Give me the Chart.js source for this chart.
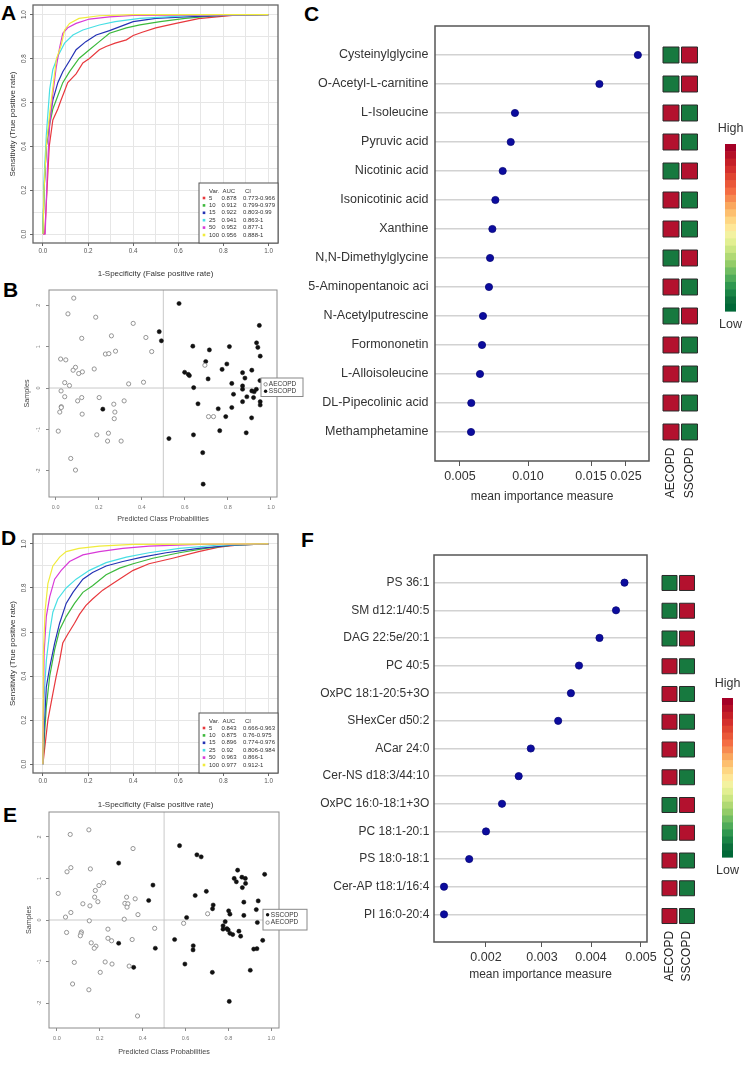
<!DOCTYPE html>
<html>
<head>
<meta charset="utf-8">
<script src="https://cdn.jsdelivr.net/npm/chart.js@4.4.1/dist/chart.umd.min.js"></script>
<style>
  body { margin: 0; width: 750px; height: 1067px; position: relative; overflow: hidden; background: #fff; font-family: "Liberation Sans", Arial, sans-serif; }
  canvas { position: absolute; }
  .tag { position: absolute; font-size: 21px; line-height: 21px; font-weight: bold; color: #000; }
</style>
</head>
<body>
<div class="tag" style="left:1px;top:2px">A</div>
<div class="tag" style="left:3px;top:279px">B</div>
<div class="tag" style="left:304px;top:3px">C</div>
<div class="tag" style="left:1px;top:527px">D</div>
<div class="tag" style="left:3px;top:804px">E</div>
<div class="tag" style="left:301px;top:529px">F</div>

<canvas id="rocA" width="290" height="285" style="left:0;top:0"></canvas>
<canvas id="probB" width="305" height="250" style="left:0;top:280px"></canvas>
<canvas id="impC" width="370" height="512" style="left:295px;top:0"></canvas>
<canvas id="heatC" width="95" height="512" style="left:655px;top:0"></canvas>
<canvas id="rocD" width="290" height="295" style="left:0;top:520px"></canvas>
<canvas id="probE" width="310" height="267" style="left:0;top:800px"></canvas>
<canvas id="impF" width="370" height="470" style="left:295px;top:520px"></canvas>
<canvas id="heatF" width="95" height="470" style="left:655px;top:520px"></canvas>

<script>
// ---------- data ----------
const rocVars = ['5', '10', '15', '25', '50', '100'];
const rocGrid = [0, 0.1, 0.2, 0.3, 0.4, 0.5, 0.6, 0.7, 0.8, 0.9, 1];

// A (metabolites): [FPR, TPR]
const rocA5 = [[0,0],[0.008,0],[0.018,0.2],[0.028,0.4],[0.044,0.52],[0.066,0.57],[0.08,0.61],[0.095,0.65],[0.11,0.69],[0.147,0.73],[0.177,0.78],[0.206,0.8],[0.25,0.84],[0.28,0.855],[0.32,0.87],[0.37,0.885],[0.4,0.905],[0.44,0.92],[0.5,0.94],[0.59,0.96],[0.69,0.982],[0.77,0.99],[0.84,0.997],[1,1]];
const rocA10 = [[0,0],[0.005,0.2],[0.015,0.4],[0.03,0.5],[0.044,0.57],[0.066,0.63],[0.088,0.69],[0.118,0.74],[0.16,0.8],[0.206,0.84],[0.25,0.877],[0.295,0.915],[0.37,0.94],[0.43,0.953],[0.52,0.968],[0.63,0.983],[0.77,0.995],[1,1]];
const rocA15 = [[0,0],[0.005,0.2],[0.015,0.4],[0.03,0.52],[0.044,0.61],[0.066,0.69],[0.088,0.74],[0.118,0.79],[0.147,0.84],[0.19,0.877],[0.236,0.907],[0.295,0.927],[0.4,0.968],[0.5,0.983],[0.63,0.99],[0.84,0.998],[1,1]];
const rocA25 = [[0,0],[0.005,0.25],[0.015,0.45],[0.03,0.66],[0.044,0.75],[0.066,0.81],[0.096,0.87],[0.133,0.907],[0.177,0.93],[0.25,0.953],[0.32,0.968],[0.43,0.983],[0.55,0.99],[0.69,0.998],[1,1]];
const rocA50 = [[0,0],[0.01,0],[0.02,0.3],[0.03,0.5],[0.044,0.64],[0.059,0.76],[0.074,0.85],[0.088,0.915],[0.11,0.94],[0.147,0.96],[0.206,0.98],[0.295,0.99],[0.4,0.997],[1,1]];
const rocA100 = [[0,0],[0.005,0.2],[0.015,0.4],[0.03,0.55],[0.06,0.8],[0.081,0.86],[0.096,0.93],[0.118,0.96],[0.16,0.983],[0.25,0.995],[0.4,1],[1,1]];
const aucA = [0.878, 0.912, 0.922, 0.941, 0.952, 0.956];
const ciA = ['0.773-0.966', '0.799-0.979', '0.803-0.99', '0.863-1', '0.877-1', '0.888-1'];

// D (lipids)
const rocD5 = [[0,0],[0.007,0.065],[0.022,0.2],[0.044,0.32],[0.059,0.4],[0.074,0.47],[0.088,0.55],[0.11,0.59],[0.14,0.64],[0.162,0.68],[0.19,0.72],[0.22,0.75],[0.265,0.79],[0.31,0.82],[0.354,0.85],[0.4,0.88],[0.47,0.91],[0.575,0.935],[0.69,0.965],[0.78,0.985],[0.87,0.995],[1,1]];
const rocD10 = [[0,0],[0.005,0.1],[0.015,0.26],[0.03,0.4],[0.052,0.52],[0.074,0.61],[0.103,0.67],[0.14,0.73],[0.177,0.78],[0.22,0.81],[0.28,0.86],[0.34,0.89],[0.4,0.91],[0.487,0.935],[0.605,0.96],[0.72,0.98],[0.84,0.994],[1,1]];
const rocD15 = [[0,0],[0.005,0.15],[0.015,0.35],[0.03,0.44],[0.052,0.55],[0.074,0.64],[0.103,0.73],[0.133,0.78],[0.177,0.84],[0.22,0.87],[0.28,0.9],[0.354,0.92],[0.44,0.94],[0.546,0.96],[0.69,0.98],[0.84,0.994],[1,1]];
const rocD25 = [[0,0],[0.005,0.3],[0.015,0.47],[0.03,0.6],[0.044,0.69],[0.066,0.75],[0.103,0.8],[0.147,0.84],[0.206,0.88],[0.28,0.915],[0.37,0.94],[0.47,0.96],[0.605,0.98],[0.77,0.994],[1,1]];
const rocD50 = [[0,0],[0.005,0.5],[0.015,0.67],[0.03,0.76],[0.052,0.84],[0.081,0.88],[0.118,0.92],[0.177,0.95],[0.25,0.965],[0.354,0.98],[0.47,0.99],[0.69,0.998],[1,1]];
const rocD100 = [[0,0],[0.002,0.5],[0.01,0.7],[0.022,0.82],[0.044,0.9],[0.074,0.94],[0.103,0.965],[0.16,0.98],[0.25,0.99],[0.4,0.998],[1,1]];
const aucD = [0.843, 0.875, 0.896, 0.92, 0.963, 0.977];
const ciD = ['0.666-0.963', '0.76-0.975', '0.774-0.976', '0.806-0.984', '0.866-1', '0.912-1'];

// B / E: [predicted class probability, sample jitter]
const groups = ['AECOPD', 'SSCOPD'];
const probTicks = [0, 0.2, 0.4, 0.6, 0.8, 1];
const sampleTicks = [-2, -1, 0, 1, 2];
const probCut = 0.5;

const probB_AECOPD = [[0.084,2.17],[0.057,1.79],[0.186,1.71],[0.36,1.56],[0.121,1.2],[0.259,1.26],[0.419,1.22],[0.231,0.82],[0.247,0.83],[0.278,0.89],[0.446,0.88],[0.023,0.7],[0.047,0.68],[0.092,0.5],[0.081,0.43],[0.124,0.39],[0.107,0.35],[0.179,0.46],[0.693,0.55],[0.042,0.13],[0.064,0.06],[0.339,0.1],[0.408,0.14],[0.025,-0.07],[0.042,-0.21],[0.102,-0.31],[0.121,-0.23],[0.202,-0.23],[0.318,-0.31],[0.27,-0.39],[0.026,-0.45],[0.026,-0.47],[0.019,-0.58],[0.275,-0.58],[0.123,-0.63],[0.272,-0.74],[0.012,-1.04],[0.191,-1.13],[0.245,-1.09],[0.241,-1.28],[0.304,-1.28],[0.07,-1.7],[0.092,-1.98],[0.71,-0.69],[0.733,-0.69]];
const probB_SSCOPD = [[0.573,2.04],[0.481,1.36],[0.491,1.14],[0.637,1.01],[0.714,0.92],[0.807,1.0],[0.946,1.51],[0.933,1.09],[0.939,0.98],[0.95,0.77],[0.697,0.64],[0.795,0.58],[0.773,0.45],[0.599,0.38],[0.616,0.33],[0.621,0.3],[0.708,0.22],[0.868,0.37],[0.911,0.43],[0.879,0.24],[0.818,0.11],[0.641,0.01],[0.868,0.05],[0.868,-0.03],[0.949,0.18],[0.932,-0.03],[0.922,-0.09],[0.911,-0.07],[0.826,-0.15],[0.95,-0.33],[0.95,-0.41],[0.868,-0.33],[0.888,-0.21],[0.919,-0.23],[0.661,-0.38],[0.755,-0.5],[0.818,-0.47],[0.219,-0.51],[0.79,-0.69],[0.91,-0.72],[0.762,-1.03],[0.64,-1.13],[0.885,-1.08],[0.526,-1.22],[0.683,-1.56],[0.685,-2.32]];
const probE_AECOPD = [[0.149,2.17],[0.062,2.06],[0.355,1.72],[0.065,1.26],[0.047,1.16],[0.156,1.23],[0.218,0.9],[0.196,0.83],[0.179,0.71],[0.006,0.64],[0.176,0.55],[0.325,0.55],[0.365,0.51],[0.191,0.44],[0.121,0.39],[0.317,0.4],[0.331,0.39],[0.154,0.34],[0.327,0.31],[0.065,0.18],[0.378,0.13],[0.04,0.07],[0.314,0.02],[0.151,-0.02],[0.703,0.15],[0.591,-0.08],[0.045,-0.3],[0.114,-0.29],[0.112,-0.33],[0.109,-0.38],[0.238,-0.22],[0.456,-0.2],[0.238,-0.44],[0.255,-0.5],[0.351,-0.47],[0.16,-0.55],[0.182,-0.63],[0.174,-0.68],[0.081,-1.02],[0.225,-1.01],[0.257,-1.06],[0.337,-1.11],[0.202,-1.26],[0.073,-1.54],[0.149,-1.68],[0.376,-2.31]];
const probE_SSCOPD = [[0.572,1.79],[0.653,1.57],[0.673,1.52],[0.288,1.37],[0.843,1.2],[0.969,1.1],[0.827,1.0],[0.863,1.03],[0.879,1.0],[0.837,0.92],[0.88,0.88],[0.448,0.84],[0.865,0.78],[0.697,0.69],[0.645,0.59],[0.428,0.47],[0.939,0.46],[0.872,0.43],[0.729,0.36],[0.726,0.27],[0.93,0.25],[0.801,0.22],[0.807,0.14],[0.872,0.11],[0.605,0.06],[0.785,-0.04],[0.775,-0.14],[0.775,-0.22],[0.793,-0.21],[0.799,-0.24],[0.807,-0.32],[0.82,-0.35],[0.849,-0.27],[0.857,-0.39],[0.935,-0.06],[0.96,-0.49],[0.549,-0.47],[0.459,-0.68],[0.636,-0.62],[0.635,-0.72],[0.288,-0.56],[0.358,-1.14],[0.597,-1.06],[0.725,-1.26],[0.918,-0.7],[0.933,-0.69],[0.902,-1.21],[0.804,-1.96]];

// C: metabolite importance + group level
const metabolites = ['Cysteinylglycine', 'O-Acetyl-L-carnitine', 'L-Isoleucine', 'Pyruvic acid', 'Nicotinic acid', 'Isonicotinic acid', 'Xanthine', 'N,N-Dimethylglycine', '5-Aminopentanoic aci', 'N-Acetylputrescine', 'Formononetin', 'L-Alloisoleucine', 'DL-Pipecolinic acid', 'Methamphetamine'];
const metaboliteImportance = [0.0284, 0.0174, 0.00904, 0.00873, 0.00814, 0.0076, 0.00738, 0.00721, 0.00713, 0.00669, 0.00662, 0.00647, 0.00583, 0.00581];
const metaboliteAECOPD = ['low', 'low', 'high', 'high', 'low', 'high', 'high', 'low', 'high', 'low', 'high', 'high', 'high', 'high'];
const metaboliteSSCOPD = ['high', 'high', 'low', 'low', 'high', 'low', 'low', 'high', 'low', 'high', 'low', 'low', 'low', 'low'];
const impTicksC = [0.005, 0.010, 0.015, 0.025];

// F: lipid importance + group level
const lipids = ['PS 36:1', 'SM d12:1/40:5', 'DAG 22:5e/20:1', 'PC 40:5', 'OxPC 18:1-20:5+3O', 'SHexCer d50:2', 'ACar 24:0', 'Cer-NS d18:3/44:10', 'OxPC 16:0-18:1+3O', 'PC 18:1-20:1', 'PS 18:0-18:1', 'Cer-AP t18:1/16:4', 'PI 16:0-20:4'];
const lipidImportance = [0.00467, 0.0045, 0.00417, 0.003755, 0.00359, 0.00333, 0.0028, 0.002584, 0.002286, 0.002, 0.0017, 0.00125, 0.00125];
const lipidAECOPD = ['low', 'low', 'low', 'high', 'high', 'high', 'high', 'high', 'low', 'low', 'high', 'high', 'high'];
const lipidSSCOPD = ['high', 'high', 'high', 'low', 'low', 'low', 'low', 'low', 'high', 'high', 'low', 'low', 'low'];
const impTicksF = [0.002, 0.003, 0.004, 0.005];

// ---------- styles ----------
const FONT = '"Liberation Sans", Arial, Helvetica, sans-serif';
Chart.defaults.font.family = FONT;
Chart.defaults.color = '#333';
Chart.defaults.layout.autoPadding = false;
const rocColors = ['#e8383d', '#3cb93c', '#2432b4', '#48dfe4', '#d83ad8', '#f0ec3c'];
const heatHigh = '#b3112e';
const heatLow = '#17793f';
const barColors = ['#a50026', '#b50f26', '#c51f27', '#d42f2c', '#e04430', '#ea5839', '#f46d43', '#f78a50', '#faa75d', '#fdbf6f', '#fed683', '#fee797', '#f3f2a0', '#e2ef92', '#cbe683', '#b0d974', '#93cc68', '#71bd62', '#4fab59', '#2f974f', '#1a8445', '#0c703c', '#006837'];

// axis with tick positions mapped piecewise (the importance axes are not linear)
class PiecewiseScale extends Chart.LinearScale {
  static id = 'piecewise';
  static defaults = Chart.LinearScale.defaults;
  getPixelForValue(v) {
    const k = this.options.knots, f = this.options.fracs;
    let i = 1;
    while (i < k.length - 1 && v > k[i]) i++;
    return this.getPixelForDecimal(f[i - 1] + (v - k[i - 1]) / (k[i] - k[i - 1]) * (f[i] - f[i - 1]));
  }
  getValueForPixel(p) {
    const d = this.getDecimalForPixel(p), k = this.options.knots, f = this.options.fracs;
    let i = 1;
    while (i < f.length - 1 && d > f[i]) i++;
    return k[i - 1] + (d - f[i - 1]) / (f[i] - f[i - 1]) * (k[i] - k[i - 1]);
  }
}
Chart.register(PiecewiseScale);

// fix an x axis height and drop the label overhang padding
function fixHeight(h) {
  return s => { s.height = h; s.paddingLeft = 0; s.paddingRight = 0; };
}

function frame(color, width) {
  return {
    id: 'frame',
    afterDraw(chart) {
      const { ctx, chartArea: a } = chart;
      ctx.save();
      ctx.strokeStyle = color;
      ctx.lineWidth = width;
      ctx.strokeRect(a.left, a.top, a.right - a.left, a.bottom - a.top);
      ctx.restore();
    }
  };
}

function rocLegend(auc, ci) {
  return {
    id: 'rocLegend',
    afterDraw(chart) {
      const { ctx, chartArea: a } = chart;
      const L = a.right - 79, T = a.bottom - 60;
      ctx.save();
      ctx.fillStyle = '#fff';
      ctx.fillRect(L, T, a.right - L, a.bottom - T);
      ctx.strokeStyle = '#555';
      ctx.lineWidth = 1;
      ctx.strokeRect(L, T, a.right - L, a.bottom - T);
      ctx.font = '6px ' + FONT;
      ctx.textBaseline = 'middle';
      ctx.fillStyle = '#333';
      ctx.fillText('Var.', L + 10, T + 8.5);
      ctx.fillText('AUC', L + 23.5, T + 8.5);
      ctx.fillText('CI', L + 46, T + 8.5);
      rocVars.forEach((v, i) => {
        const y = T + 15 + i * 7.4;
        ctx.fillStyle = rocColors[i];
        ctx.fillRect(L + 3.7, y - 1.3, 2.6, 2.6);
        ctx.fillStyle = '#333';
        ctx.fillText(v, L + 10, y);
        ctx.fillText(String(auc[i]), L + 22.5, y);
        ctx.fillText(ci[i], L + 44, y);
      });
      ctx.restore();
    }
  };
}

function rocChart(id, curves, auc, ci, lay) {
  const tickAxis = {
    type: 'linear',
    afterBuildTicks: s => { s.ticks = rocGrid.map(v => ({ value: v })); },
    grid: { color: '#e6e6e6', lineWidth: 1, tickLength: 3, tickColor: c => c.index % 2 ? 'rgba(0,0,0,0)' : '#666' },
    border: { display: false }
  };
  return new Chart(document.getElementById(id), {
    type: 'scatter',
    data: {
      datasets: curves.map((pts, i) => ({
        label: rocVars[i],
        data: pts.map(p => ({ x: p[0], y: p[1] })),
        showLine: true,
        borderColor: rocColors[i],
        borderWidth: 1.2,
        pointRadius: 0,
        order: curves.length - i
      }))
    },
    options: {
      responsive: false,
      animation: false,
      layout: { padding: { top: lay.top, right: lay.right, left: 0, bottom: 0 } },
      plugins: { legend: { display: false }, tooltip: { enabled: false } },
      scales: {
        x: Object.assign({}, tickAxis, {
          min: -0.044, max: 1.042,
          afterFit: fixHeight(lay.xh),
          ticks: { autoSkip: false, maxRotation: 0, padding: 1, font: { size: 6.3 }, color: '#555', callback: (v, i) => i % 2 ? '' : v.toFixed(1) },
          title: { display: true, text: '1-Specificity (False positive rate)', font: { size: 8 }, color: '#333', padding: { top: 0, bottom: lay.tb } }
        }),
        y: Object.assign({}, tickAxis, {
          min: lay.ymin, max: lay.ymax,
          afterFit: s => { s.width = 33; },
          ticks: { autoSkip: false, minRotation: 90, maxRotation: 90, crossAlign: 'center', padding: 1, font: { size: 6.3 }, color: '#555', callback: (v, i) => i % 2 ? '' : v.toFixed(1) },
          title: { display: true, text: 'Sensitivity (True positive rate)', font: { size: 8 }, color: '#333', padding: { top: 7.5, bottom: 0 } }
        })
      }
    },
    plugins: [frame('#666', 1.3), rocLegend(auc, ci)]
  });
}

function refLines() {
  return {
    id: 'refLines',
    beforeDatasetsDraw(chart) {
      const { ctx, chartArea: a, scales } = chart;
      const x = scales.x.getPixelForValue(probCut), y = scales.y.getPixelForValue(0);
      ctx.save();
      ctx.strokeStyle = '#c9c9c9';
      ctx.lineWidth = 1;
      ctx.beginPath();
      ctx.moveTo(x, a.top); ctx.lineTo(x, a.bottom);
      ctx.moveTo(a.left, y); ctx.lineTo(a.right, y);
      ctx.stroke();
      ctx.restore();
    }
  };
}

function groupLegend(items, box) {
  return {
    id: 'groupLegend',
    afterDraw(chart) {
      const ctx = chart.ctx;
      ctx.save();
      ctx.fillStyle = '#fff';
      ctx.fillRect(box.x, box.y, box.w, box.h);
      ctx.strokeStyle = '#888';
      ctx.lineWidth = 1;
      ctx.strokeRect(box.x, box.y, box.w, box.h);
      ctx.font = '6.5px ' + FONT;
      ctx.textBaseline = 'middle';
      items.forEach((it, i) => {
        const y = box.y + box.rows[i];
        ctx.beginPath();
        ctx.arc(box.x + 4.6, y, 1.7, 0, Math.PI * 2);
        if (it.filled) { ctx.fillStyle = '#111'; ctx.fill(); }
        else { ctx.strokeStyle = '#777'; ctx.lineWidth = 0.8; ctx.stroke(); }
        ctx.fillStyle = '#333';
        ctx.fillText(it.label, box.x + 7.8, y);
      });
      ctx.restore();
    }
  };
}

function probChart(id, ae, ss, legendItems, lay) {
  const open = { label: groups[0], data: ae.map(p => ({ x: p[0], y: p[1] })), pointRadius: 2.1, borderWidth: 0.9, borderColor: '#8a8a8a', backgroundColor: '#fff' };
  const filled = { label: groups[1], data: ss.map(p => ({ x: p[0], y: p[1] })), pointRadius: 2.1, borderWidth: 0.5, borderColor: '#111', backgroundColor: '#111' };
  return new Chart(document.getElementById(id), {
    type: 'scatter',
    data: { datasets: [open, filled] },
    options: {
      responsive: false,
      animation: false,
      layout: { padding: { top: lay.top, right: lay.right, left: 0, bottom: 0 } },
      plugins: { legend: { display: false }, tooltip: { enabled: false } },
      scales: {
        x: {
          type: 'linear', min: lay.xmin, max: lay.xmax,
          afterBuildTicks: s => { s.ticks = probTicks.map(v => ({ value: v })); },
          afterFit: fixHeight(lay.xh),
          grid: { drawOnChartArea: false, tickLength: 3, tickColor: '#888' },
          border: { display: false },
          ticks: { autoSkip: false, maxRotation: 0, padding: lay.xp, font: { size: 5.5 }, color: '#777', callback: v => v.toFixed(1) },
          title: { display: true, text: 'Predicted Class Probabilities', font: { size: 7.2 }, color: '#444', padding: { top: 0, bottom: lay.tb } }
        },
        y: {
          type: 'linear', min: lay.ymin, max: lay.ymax,
          afterBuildTicks: s => { s.ticks = sampleTicks.map(v => ({ value: v })); },
          afterFit: s => { s.width = 49; },
          grid: { drawOnChartArea: false, tickLength: 3, tickColor: '#888' },
          border: { display: false },
          ticks: { autoSkip: false, minRotation: 90, maxRotation: 90, crossAlign: 'center', padding: lay.yp, font: { size: 5.5 }, color: '#777', callback: v => String(v) },
          title: { display: true, text: 'Samples', font: { size: 7.2 }, color: '#444', padding: { top: lay.tl, bottom: 0 } }
        }
      }
    },
    plugins: [refLines(), frame('#8c8c8c', 1), groupLegend(legendItems, lay.legend)]
  });
}

function importanceChart(id, names, values, ticks, lay) {
  return new Chart(document.getElementById(id), {
    type: 'scatter',
    data: {
      datasets: [{
        data: values.map((v, i) => ({ x: v, y: i + 1 })),
        pointRadius: 3.6,
        backgroundColor: '#0c0c9e',
        borderColor: '#06067a',
        borderWidth: 0.8
      }]
    },
    options: {
      responsive: false,
      animation: false,
      layout: { padding: { top: lay.top, right: lay.right, left: 0, bottom: 0 } },
      plugins: { legend: { display: false }, tooltip: { enabled: false } },
      scales: {
        x: {
          type: 'piecewise', knots: lay.knots, fracs: lay.fracs,
          min: lay.knots[0], max: lay.knots[lay.knots.length - 1],
          afterBuildTicks: s => { s.ticks = ticks.map(v => ({ value: v })); },
          afterFit: fixHeight(lay.xh),
          grid: { drawOnChartArea: false, tickLength: 5, tickColor: '#555' },
          border: { display: false },
          ticks: { autoSkip: false, maxRotation: 0, padding: lay.xp, font: { size: 12.5 }, color: '#333', callback: v => v.toFixed(3) },
          title: { display: true, text: 'mean importance measure', font: { size: 12 }, color: '#333', padding: { top: 0, bottom: lay.tb } }
        },
        y: {
          type: 'linear', reverse: true, min: 0, max: names.length + 1,
          afterBuildTicks: s => { s.ticks = names.map((n, i) => ({ value: i + 1 })); },
          afterFit: s => { s.width = lay.yw; },
          grid: { color: '#d2d2d2', lineWidth: 1.5, drawTicks: false },
          border: { display: false },
          ticks: { autoSkip: false, padding: lay.yp, font: { size: lay.fs }, color: '#333', callback: v => names[v - 1] }
        }
      }
    },
    plugins: [frame('#555', 1.5)]
  });
}

function colorBar(bar) {
  return {
    id: 'colorBar',
    afterDraw(chart) {
      const ctx = chart.ctx;
      const h = (bar.bottom - bar.top) / barColors.length;
      ctx.save();
      barColors.forEach((c, i) => {
        ctx.fillStyle = c;
        ctx.fillRect(bar.left, bar.top + i * h, bar.width, h + 0.6);
      });
      ctx.font = '12.5px ' + FONT;
      ctx.textAlign = 'center';
      ctx.textBaseline = 'middle';
      ctx.fillStyle = '#333';
      ctx.fillText('High', bar.left + bar.width / 2, bar.highY);
      ctx.fillText('Low', bar.left + bar.width / 2, bar.lowY);
      ctx.restore();
    }
  };
}

function heatChart(id, names, ae, ss, lay) {
  const cells = [];
  names.forEach((n, i) => {
    cells.push({ x: groups[0], y: i + 1, level: ae[i] });
    cells.push({ x: groups[1], y: i + 1, level: ss[i] });
  });
  return new Chart(document.getElementById(id), {
    type: 'scatter',
    data: {
      datasets: [{
        data: cells,
        pointStyle: 'rect',
        pointRadius: lay.r,
        backgroundColor: c => (c.raw && c.raw.level === 'high') ? heatHigh : heatLow,
        borderColor: '#2a2a2a',
        borderWidth: 1,
        clip: false
      }]
    },
    options: {
      responsive: false,
      animation: false,
      layout: { autoPadding: false, padding: { top: lay.top, right: lay.right, left: lay.left, bottom: 0 } },
      plugins: { legend: { display: false }, tooltip: { enabled: false } },
      scales: {
        x: {
          type: 'category', labels: groups, offset: true,
          afterFit: fixHeight(lay.xh),
          grid: { display: false, drawTicks: false },
          border: { display: false },
          ticks: { autoSkip: false, minRotation: 90, maxRotation: 90, padding: 1, labelOffset: lay.lo, font: { size: 12 }, color: '#222' }
        },
        y: { type: 'linear', reverse: true, min: 0.5, max: names.length + 0.5, display: false }
      }
    },
    plugins: [colorBar(lay.bar)]
  });
}

// ---------- panels ----------
rocChart('rocA', [rocA5, rocA10, rocA15, rocA25, rocA50, rocA100], aucA, ciA,
  { top: 5, right: 12, xh: 42, tb: 6.5, ymin: -0.041, ymax: 1.044 });
rocChart('rocD', [rocD5, rocD10, rocD15, rocD25, rocD50, rocD100], aucD, ciD,
  { top: 14, right: 12, xh: 42, tb: 5.5, ymin: -0.04, ymax: 1.045 });

probChart('probB', probB_AECOPD, probB_SSCOPD,
  [{ label: groups[0], filled: false }, { label: groups[1], filled: true }],
  { top: 10, right: 28, xh: 33, tb: 6.2, xp: 4, yp: 5, tl: 23.2, xmin: -0.031, xmax: 1.028, ymin: -2.63, ymax: 2.366,
    legend: { x: 261, y: 98, w: 42, h: 18.5, rows: [6.3, 13.3] } });
probChart('probE', probE_AECOPD, probE_SSCOPD,
  [{ label: groups[1], filled: true }, { label: groups[0], filled: false }],
  { top: 12, right: 31, xh: 39, tb: 10.2, xp: 4, yp: 4, tl: 24.5, xmin: -0.037, xmax: 1.036, ymin: -2.6, ymax: 2.6,
    legend: { x: 263, y: 109.3, w: 44, h: 20.7, rows: [5.5, 13.3] } });

importanceChart('impC', metabolites, metaboliteImportance, impTicksC,
  { top: 26, right: 16, yw: 140, xh: 51, tb: 7.8, xp: 3, yp: 6.5, fs: 12.5,
    knots: [0.00316, 0.005, 0.010, 0.015, 0.025, 0.0316], fracs: [0, 0.1168, 0.4346, 0.729, 0.8925, 1] });
importanceChart('impF', lipids, lipidImportance, impTicksF,
  { top: 35, right: 18, yw: 139, xh: 48, tb: 7.8, xp: 3, yp: 4.7, fs: 12,
    knots: [0.001071, 0.002, 0.003, 0.004, 0.005, 0.00512], fracs: [0, 0.2441, 0.507, 0.7371, 0.9718, 1] });

heatChart('heatC', metabolites, metaboliteAECOPD, metaboliteSSCOPD,
  { top: 40.5, left: 6.75, right: 51.25, xh: 65.5, r: 11.3, lo: 0,
    bar: { left: 70, width: 11, top: 144, bottom: 311, highY: 129, lowY: 325 } });
heatChart('heatF', lipids, lipidAECOPD, lipidSSCOPD,
  { top: 49.1, left: 5.75, right: 54.25, xh: 60.1, r: 10.6, lo: 0,
    bar: { left: 67, width: 11, top: 178, bottom: 337, highY: 164, lowY: 351 } });
</script>
</body>
</html>
